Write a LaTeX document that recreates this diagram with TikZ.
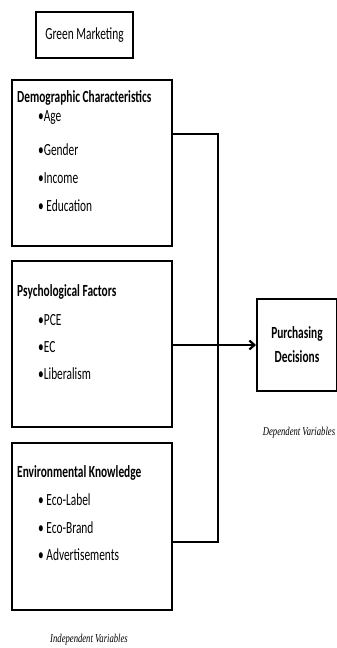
\documentclass[tikz,border=0pt]{standalone}
\usepackage{fontspec}
\setmainfont{Carlito}[FakeStretch=0.67]
\newfontfamily\capfont{Liberation Serif}[FakeStretch=0.72]
\usetikzlibrary{arrows.meta}
\begin{document}
\begin{tikzpicture}[x=1pt,y=-1pt,
  box/.style={draw,line width=2pt},
  item/.style={anchor=west,inner sep=0pt,font=\fontsize{17}{20}\selectfont},
  head/.style={anchor=west,inner sep=0pt,font=\fontsize{17}{20}\selectfont\bfseries},
  captext/.style={inner sep=0pt,font=\fontsize{12}{14}\selectfont\capfont\itshape},
  conn/.style={line width=2.2pt}]
\useasboundingbox (0,0) rectangle (337,648);
% Green marketing
\node[box,minimum width=97pt,minimum height=46pt,inner sep=0pt,font=\fontsize{17}{20}\selectfont] (gm) at (84.5,35) {Green Marketing};
% boxes
\node[box,minimum width=160pt,minimum height=166pt,inner sep=0pt] (dem) at (92,163) {};
\node[box,minimum width=160pt,minimum height=166pt,inner sep=0pt] (psy) at (92,344) {};
\node[box,minimum width=160pt,minimum height=167pt,inner sep=0pt] (env) at (92,526.5) {};
\node[box,minimum width=80pt,minimum height=92pt,inner sep=0pt,align=center,font=\fontsize{17}{24}\selectfont\bfseries] (pd) at (297,345) {Purchasing\\Decisions};
% texts
\node[head] (dh) at (17,98) {Demographic Characteristics};
\node[item] (d1) at (38,118) {•Age};
\node[item] (d2) at (38,150) {•Gender};
\node[item] (d3) at (38,178) {•Income};
\node[item] (d4) at (38,206) {• Education};
\node[head] (ph) at (17,292) {Psychological Factors};
\node[item] (p1) at (38,320) {•PCE};
\node[item] (p2) at (38,347) {•EC};
\node[item] (p3) at (38,374) {•Liberalism};
\node[head] (eh) at (17,473) {Environmental Knowledge};
\node[item] (e1) at (38,500) {• Eco-Label};
\node[item] (e2) at (38,528) {• Eco-Brand};
\node[item] (e3) at (38,555) {• Advertisements};
\node[captext] (dv) at (299,433) {Dependent Variables};
\node[captext] (iv) at (89,640) {Independent Variables};
% connectors
\coordinate (bt) at (218,134);
\coordinate (bb) at (218,542);
\draw[conn] (dem.east |- bt) -- (bt) -- (bb) -- (env.east |- bb);
\draw[conn,-{Straight Barb[length=5pt,width=9pt]}] (psy.east |- pd.west) -- (pd.west);
\end{tikzpicture}
\end{document}
